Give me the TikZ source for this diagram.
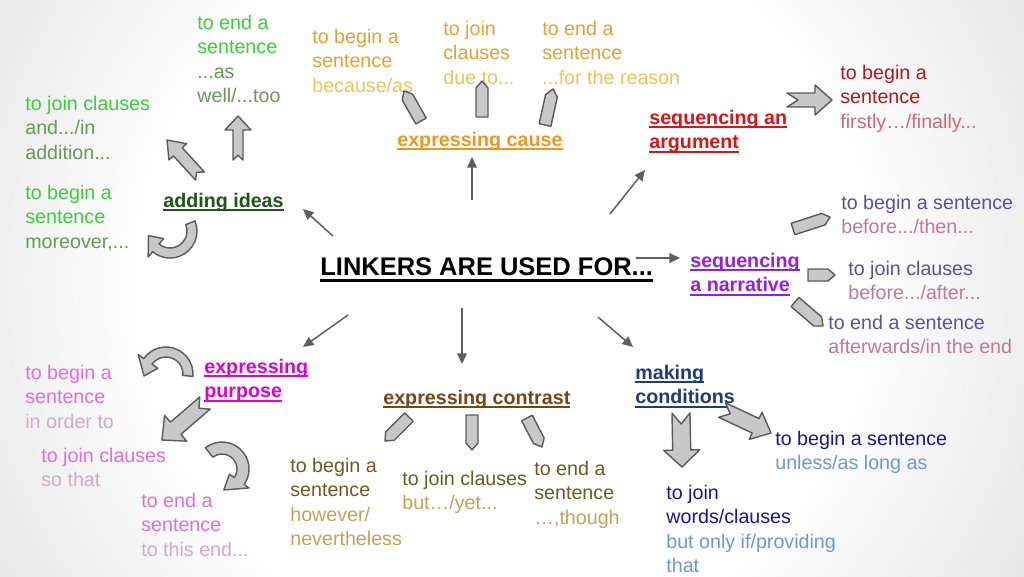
\documentclass[tikz,border=0pt]{standalone}
\usepackage{fontspec}
\setmainfont{Liberation Sans}
\usetikzlibrary{calc,arrows.meta}
\definecolor{gh}{RGB}{55,210,55}
\definecolor{ge}{RGB}{100,155,85}
\definecolor{gt}{RGB}{30,85,20}
\definecolor{oh}{RGB}{232,160,50}
\definecolor{oe}{RGB}{235,195,95}
\definecolor{ot}{RGB}{240,150,30}
\definecolor{rt}{RGB}{220,20,20}
\definecolor{rh}{RGB}{185,20,25}
\definecolor{re}{RGB}{210,105,115}
\definecolor{vt}{RGB}{150,30,220}
\definecolor{vh}{RGB}{90,80,160}
\definecolor{ve}{RGB}{195,120,150}
\definecolor{mt}{RGB}{220,0,220}
\definecolor{mh}{RGB}{225,110,225}
\definecolor{me}{RGB}{210,170,200}
\definecolor{bt}{RGB}{120,70,20}
\definecolor{bh}{RGB}{110,90,30}
\definecolor{be}{RGB}{200,160,90}
\definecolor{ct}{RGB}{30,60,120}
\definecolor{ch}{RGB}{20,20,165}
\definecolor{ce}{RGB}{110,150,220}
\definecolor{arrowfill}{RGB}{200,200,200}
\definecolor{arrowdark}{RGB}{90,90,90}
\definecolor{connc}{RGB}{95,95,95}
\pgfdeclareradialshading{bgshade}{\pgfpoint{0bp}{0bp}}{color(0bp)=(white); color(9bp)=(white); color(26bp)=(black!28); color(50bp)=(black!36)}
\newcommand\lnx[2]{\textcolor{#1}{\strut #2}}
\newcommand\ulx[1]{\setbox0\hbox{#1}\rlap{\rule[-0.2em]{\wd0}{0.1em}}\box0}
\newcommand\ulxx[1]{\setbox0\hbox{#1}\rlap{\rule[-0.27em]{\wd0}{0.12em}}\box0}
% pentagon arrow: tail #1, tip #2
\newcommand\pencil[2]{%
  \coordinate (pa) at #1; \coordinate (pb) at #2;
  \coordinate (pc) at ($(pb)!0.14cm!(pa)$);
  \draw[blk] ($(pa)!0.12cm!90:(pb)$) -- ($(pc)!0.12cm!90:(pb)$) -- (pb)
     -- ($(pc)!0.12cm!-90:(pb)$) -- ($(pa)!0.12cm!-90:(pb)$) -- cycle;}
% notched arrow: tail #1, tip #2, shaft half #3, head half #4, head length #5, notch #6
\newcommand\notched[6]{%
  \coordinate (na) at #1; \coordinate (nb) at #2;
  \coordinate (nc) at ($(nb)!#5!(na)$);
  \coordinate (nn) at ($(na)!#6!(nb)$);
  \draw[blk] (nn) -- ($(na)!#3!90:(nb)$) -- ($(nc)!#3!90:(nb)$) -- ($(nc)!#4!90:(nb)$)
     -- (nb) -- ($(nc)!#4!-90:(nb)$) -- ($(nc)!#3!-90:(nb)$) -- ($(na)!#3!-90:(nb)$) -- cycle;}
% curved arrow: centre #1, radius #2, band half #3, head half #4, start #5, end #6, tip angle #7
\newcommand\curved[7]{%
  \coordinate (cc) at #1;
  \draw[blk] ([shift={({#5}:{#2+#3})}]cc) arc[start angle=#5, end angle=#6, radius={#2+#3}]
     -- ([shift={({#6}:{#2+#4})}]cc) -- ([shift={({#7}:{#2})}]cc)
     -- ([shift={({#6}:{#2-#4})}]cc) -- ([shift={({#6}:{#2-#3})}]cc)
     arc[start angle=#6, end angle=#5, radius={#2-#3}] -- cycle;}
\begin{document}
\begin{tikzpicture}[x=0.02cm,y=0.02cm,
  txt/.style={anchor=north west, inner sep=0pt, align=left, yshift=-0.9pt, font=\fontsize{11.2}{14}\selectfont},
  ttl/.style={anchor=north west, inner sep=0pt, align=left, yshift=-0.9pt, font=\fontsize{11.2}{14}\selectfont\bfseries},
  blk/.style={draw=arrowdark, fill=arrowfill, line width=0.8pt, line join=round},
  conn/.style={draw=connc, line width=0.85pt, -{Triangle[length=6pt,width=5.5pt]}}]
\useasboundingbox (0,0) rectangle (1024,-576);
\begin{scope}
  \clip (0,0) rectangle (1024,-576);
  \shade[shading=bgshade] (505,-280) ellipse [x radius=1000, y radius=1000];
\end{scope}

% centre
\node[anchor=base west, inner sep=0pt, font=\fontsize{14.5}{17}\selectfont\bfseries] (main) at (320,-275) {\ulxx{LINKERS ARE USED FOR...}};

% adding ideas
\node[txt] (aEnd) at (197,-10) {\lnx{gh}{to end a}\\\lnx{gh}{sentence}\\\lnx{ge}{...as}\\\lnx{ge}{well/...too}};
\node[txt] (aJoin) at (25,-91) {\lnx{gh}{to join clauses}\\\lnx{ge}{and.../in}\\\lnx{ge}{addition...}};
\node[txt] (aBegin) at (25,-180) {\lnx{gh}{to begin a}\\\lnx{gh}{sentence}\\\lnx{ge}{moreover,...}};
\node[ttl] (aTitle) at (163,-188) {\lnx{gt}{\ulx{adding ideas}}};

% expressing cause
\node[txt] (cBegin) at (312,-24) {\lnx{oh}{to begin a}\\\lnx{oh}{sentence}\\\lnx{oe}{because/as}};
\node[txt] (cJoin) at (443,-16) {\lnx{oh}{to join}\\\lnx{oh}{clauses}\\\lnx{oe}{due to...}};
\node[txt] (cEnd) at (542,-16) {\lnx{oh}{to end a}\\\lnx{oh}{sentence}\\\lnx{oe}{...for the reason}};
\node[ttl] (cTitle) at (397,-127) {\lnx{ot}{\ulx{expressing cause}}};

% sequencing an argument
\node[ttl] (gTitle) at (649,-105) {\lnx{rt}{\ulx{sequencing an}}\\\lnx{rt}{\ulx{argument}}};
\node[txt] (gBegin) at (840,-60) {\lnx{rh}{to begin a}\\\lnx{rh}{sentence}\\\lnx{re}{firstly…/finally...}};

% sequencing a narrative
\node[ttl] (nTitle) at (690,-248) {\lnx{vt}{\ulx{sequencing}}\\\lnx{vt}{\ulx{a narrative}}};
\node[txt] (nBegin) at (841,-190) {\lnx{vh}{to begin a sentence}\\\lnx{ve}{before.../then...}};
\node[txt] (nJoin) at (848,-256) {\lnx{vh}{to join clauses}\\\lnx{ve}{before.../after...}};
\node[txt] (nEnd) at (828,-310) {\lnx{vh}{to end a sentence}\\\lnx{ve}{afterwards/in the end}};

% expressing purpose
\node[ttl] (pTitle) at (204,-354) {\lnx{mt}{\ulx{expressing}}\\\lnx{mt}{\ulx{purpose}}};
\node[txt] (pBegin) at (25,-360) {\lnx{mh}{to begin a}\\\lnx{mh}{sentence}\\\lnx{me}{in order to}};
\node[txt] (pJoin) at (41,-443) {\lnx{mh}{to join clauses}\\\lnx{me}{so that}};
\node[txt] (pEnd) at (141,-488) {\lnx{mh}{to end a}\\\lnx{mh}{sentence}\\\lnx{me}{to this end...}};

% expressing contrast
\node[ttl] (kTitle) at (383,-385) {\lnx{bt}{\ulx{expressing contrast}}};
\node[txt] (kBegin) at (290,-453) {\lnx{bh}{to begin a}\\\lnx{bh}{sentence}\\\lnx{be}{however/}\\\lnx{be}{nevertheless}};
\node[txt] (kJoin) at (402,-466) {\lnx{bh}{to join clauses}\\\lnx{be}{but…/yet...}};
\node[txt] (kEnd) at (534,-456) {\lnx{bh}{to end a}\\\lnx{bh}{sentence}\\\lnx{be}{…,though}};

% making conditions
\node[ttl] (mTitle) at (635,-360) {\lnx{ct}{\ulx{making}}\\\lnx{ct}{\ulx{conditions}}};
\node[txt] (mBegin) at (775,-426) {\lnx{ch}{to begin a sentence}\\\lnx{ce}{unless/as long as}};
\node[txt] (mJoin) at (666,-480) {\lnx{ch}{to join}\\\lnx{ch}{words/clauses}\\\lnx{ce}{but only if/providing}\\\lnx{ce}{that}};

% connectors from the centre
\coordinate (s1) at (333,-236); \coordinate (e1) at (303,-209);
\coordinate (s2) at (472,-200); \coordinate (e2) at (472,-157);
\coordinate (s3) at (610,-214); \coordinate (e3) at (645,-170);
\coordinate (s4) at (636,-258); \coordinate (e4) at (680,-258);
\coordinate (s5) at (348,-315); \coordinate (e5) at (303,-347);
\coordinate (s6) at (462,-308); \coordinate (e6) at (462,-364);
\coordinate (s7) at (598,-317); \coordinate (e7) at (633,-347);
\foreach \i in {1,...,7} {\draw[conn] (s\i) -- (e\i);}

% block arrows
\pencil{(421,-121)}{(404,-91)}
\pencil{(482,-117)}{(482,-81)}
\pencil{(545,-125)}{(553,-89)}
\pencil{(793,-229)}{(830,-217)}
\pencil{(808,-275)}{(835,-275)}
\pencil{(795,-302)}{(823,-326)}
\pencil{(409,-417)}{(385,-441)}
\pencil{(472,-415)}{(472,-450)}
\pencil{(527,-418)}{(542,-447)}

\notched{(200,-176)}{(167,-140)}{0.12cm}{0.24cm}{0.32cm}{0.1cm}
\notched{(238,-160)}{(238,-116)}{0.1cm}{0.26cm}{0.28cm}{0.1cm}
\notched{(787,-100)}{(832,-100)}{0.14cm}{0.3cm}{0.34cm}{0.22cm}
\notched{(205,-403)}{(162,-440)}{0.16cm}{0.34cm}{0.36cm}{0.16cm}
\notched{(681,-413)}{(682,-467)}{0.18cm}{0.36cm}{0.34cm}{0.22cm}
\notched{(722,-410)}{(771,-433)}{0.16cm}{0.3cm}{0.34cm}{0.18cm}

\curved{(170,-231)}{22}{5}{12}{22}{-130}{-168}
\curved{(166,-374)}{22}{5}{12}{-5}{145}{185}
\curved{(222,-469)}{21}{6}{12}{128}{-35}{-85}
\end{tikzpicture}
\end{document}
